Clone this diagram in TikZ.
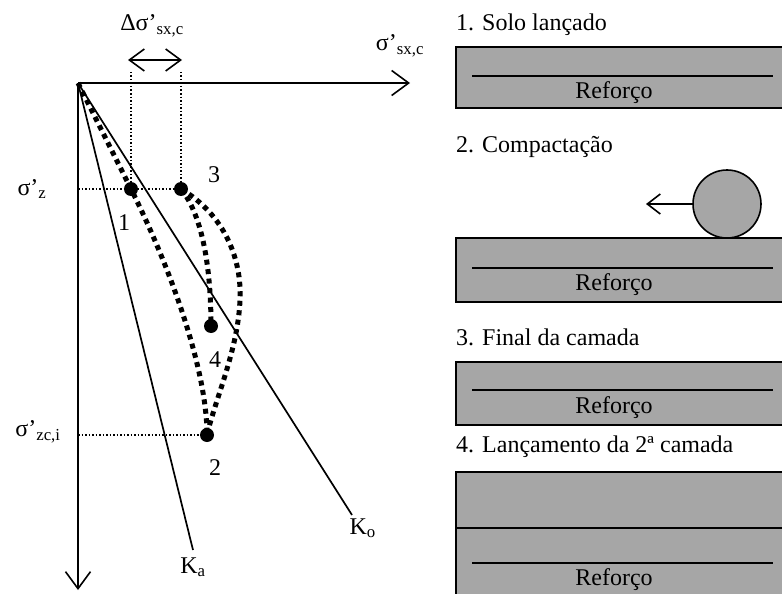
\documentclass[tikz,border=0pt]{standalone}
\usepackage{fontspec}
\setmainfont{Liberation Serif}
\usetikzlibrary{arrows.meta, positioning}

\definecolor{soil}{RGB}{166,166,166}

\begin{document}
\begin{tikzpicture}[x=1pt, y=-1pt, every node/.style={font=\fontsize{24}{28}\selectfont}]
        % Styles
        \tikzstyle{state} = [circle, fill=black, inner sep=0pt, minimum size=14pt]
        \tikzstyle{axis} = [line width=1.6pt, -{Straight Barb[length=17pt, width=25pt, line width=1.6pt]}]
        \tikzstyle{guide} = [line width=1.3pt, dash pattern=on 1.5pt off 2pt]
        \tikzstyle{stresspath} = [line width=5pt, dash pattern=on 5pt off 4.5pt]
        \tikzstyle{kline} = [line width=1.7pt]
        \tikzstyle{layer} = [draw, line width=2pt, fill=soil]
        \tikzstyle{title} = [anchor=west, inner sep=0pt]

        \clip (0,0) rectangle (782,594);

        % Axes
        \coordinate (O) at (78,83);
        \coordinate (xend) at (410,83);
        \coordinate (yend) at (78,590);
        \draw [axis] (O) -- (xend);
        \draw [axis] (O) -- (yend);
        \node (sx) at (400,46) {σ'\textsubscript{sx,c}};
        \node (sz) at (32,189) {σ'\textsubscript{z}};
        \node (szc) at (38,432) {σ'\textsubscript{zc,i}};

        % K lines
        \coordinate (kaend) at (193,550);
        \coordinate (koend) at (352,515);
        \draw [kline] (O) -- (kaend);
        \draw [kline] (O) -- (koend);
        \node (ka) [below=4pt of kaend] {K\textsubscript{a}};
        \node (ko) [below right=0pt and -6pt of koend] {K\textsubscript{o}};

        % Stress states
        \node (p1) [state] at (131,189) {};
        \node (p3) [state] at (181,189) {};
        \node (p4) [state] at (211,326) {};
        \node (p2) [state] at (207,435) {};
        \node (n1) at (124,223) {1};
        \node (n3) at (214,175) {3};
        \node (n4) at (215,360) {4};
        \node (n2) at (215,468) {2};

        % Guides
        \coordinate (g1) at (131,72);
        \coordinate (g3) at (181,72);
        \coordinate (hz) at (78,189);
        \coordinate (hzc) at (78,435);
        \draw [guide] (g1) -- (p1.center);
        \draw [guide] (g3) -- (p3.center);
        \draw [guide] (hz) -- (p3.center);
        \draw [guide] (hzc) -- (p2.center);

        % Delta arrow
        \coordinate (da) at (128,60);
        \coordinate (db) at (182,60);
        \draw [line width=1.6pt, {Straight Barb[length=15pt, width=22pt, line width=1.6pt]}-{Straight Barb[length=15pt, width=22pt, line width=1.6pt]}] (da) -- (db);
        \node (delta) at (152,26) {Δσ'\textsubscript{sx,c}};

        % Stress paths
        \coordinate (bend) at (240,300);
        \draw [stresspath] (O) -- (p1.center) .. controls (171,269) and (207,370) .. (p2.center);
        \draw [stresspath] (p3.center) .. controls (203,216) and (211,270) .. (p4.center);
        \draw [stresspath] (p3.center) .. controls (225,215) and (242,260) .. (bend)
                                      .. controls (238,350) and (215,400) .. (p2.center);

        % 1. Solo lancado
        \node (t1) [title] at (456,25) {1. Solo lançado};
        \draw [layer] (456,47) rectangle (800,108);
        \draw [line width=2pt] (472,76) -- (773,76);
        \node (r1) at (614,93) {Reforço};

        % 2. Compactacao
        \node (t2) [title] at (456,147) {2. Compactação};
        \draw [layer] (456,238) rectangle (800,302);
        \draw [line width=2pt] (472,268) -- (773,268);
        \node (r2) at (614,285) {Reforço};
        \node (roller) [circle, draw, line width=1.6pt, fill=soil, minimum size=68pt, inner sep=0pt] at (727,204) {};
        \coordinate (arrowend) at (646,204);
        \draw [line width=1.6pt, -{Straight Barb[length=13pt, width=20pt, line width=1.6pt]}] (roller.west) -- (arrowend);

        % 3. Final da camada
        \node (t3) [title] at (456,337) {3. Final da camada};
        \draw [layer] (456,362) rectangle (800,425);
        \draw [line width=2pt] (472,390) -- (773,390);
        \node (r3) at (614,408) {Reforço};

        % 4. Lancamento da 2a camada
        \node (t4) [title] at (456,447) {4. Lançamento da 2ª camada};
        \draw [layer] (456,472) rectangle (800,620);
        \draw [line width=2pt] (456,528) -- (800,528);
        \draw [line width=2pt] (472,563) -- (773,563);
        \node (r4) at (614,580) {Reforço};
\end{tikzpicture}
\end{document}
